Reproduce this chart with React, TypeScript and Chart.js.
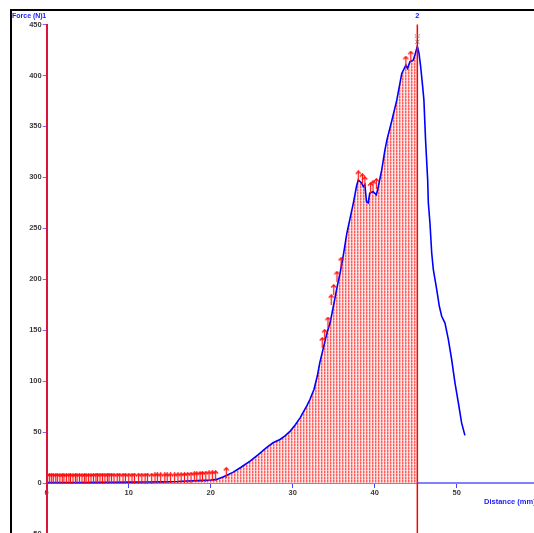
import React, { useEffect, useRef } from "react";
import { Chart, registerables } from "chart.js";

Chart.register(...registerables);

// ---- data ----
const curveX = [
  0, 2, 4, 6, 8, 10, 12, 14, 16, 17, 18, 19, 20, 20.7, 21.5, 22.7, 23.7, 24.8, 25.8, 26.8,
  27.6, 28.45, 29.1, 29.7, 30.3, 30.9, 31.7, 32.1, 32.6, 33.0, 33.3, 33.6, 33.9, 34.2, 34.55,
  34.95, 35.4, 35.8, 36.2, 36.6, 37.0, 37.4, 37.8, 38.0, 38.4, 38.6, 38.8, 39.0, 39.2, 39.4,
  39.8, 40.2, 40.4, 40.85, 41.25, 41.5, 42.1, 42.7, 43.3, 43.8, 44.0, 44.3, 44.7, 44.9, 45.2,
  45.4, 45.6, 45.85, 46.0, 46.2, 46.46, 46.54, 46.74, 46.95, 47.15, 47.56, 47.88, 48.17, 48.57,
  48.98, 49.39, 49.79, 50.2, 50.6, 51.0,
];
const curveY = [
  0.5, 0.5, 0.6, 0.7, 0.8, 0.9, 1.0, 1.2, 1.5, 2.0, 2.3, 2.6, 3.0, 3.6, 6, 10.5, 15.5, 21.6, 28, 34.7,
  39.5, 42.8, 46.5, 51, 57, 64, 75.5, 82, 92, 105, 118, 128, 138, 148, 157,
  173, 192, 207, 225, 245, 260, 275, 292, 297.5, 294.5, 291, 293, 276, 275, 284.5,
  286, 283, 289.5, 307, 327, 337, 356, 376, 402, 410, 407, 413.5, 415, 420, 428.5,
  422, 409, 389, 376, 337, 297.5, 275, 255, 226, 209.5, 190, 173.5, 163.7, 157,
  141, 121, 98.4, 78.8, 59, 46.8,
];

const arrowX = [
  0.1, 0.35, 0.6, 0.8, 1.1, 1.3, 1.6, 1.9, 2.1, 2.4, 2.7, 2.9, 3.2, 3.5, 3.7, 4.0, 4.3, 4.6, 4.8,
  5.1, 5.4, 5.7, 6.0, 6.2, 6.5, 6.8, 7.1, 7.4, 7.6, 7.9, 8.2, 8.6, 8.9, 9.3, 9.6, 10.0, 10.4,
  10.7, 11.2, 11.6, 12.0, 12.3, 12.8, 13.2, 13.5, 13.9, 14.4, 14.7, 15.1, 15.6, 16.0, 16.4, 16.8,
  17.2, 17.6, 18.0, 18.3, 18.7, 19.0, 19.4, 19.8, 20.2, 20.6, 21.9,
  33.6, 33.9, 34.3, 34.7, 35.0, 35.4, 35.9,
  38.0, 38.5, 38.8, 39.5, 39.8, 40.2,
  43.8, 44.4,
];
const arrowY = [
  4.6, 4.6, 4.6, 4.6, 4.6, 4.6, 4.6, 4.6, 4.6, 4.6, 4.6, 4.6, 4.6, 4.6, 4.6, 4.6, 4.6, 4.6, 4.6,
  4.6, 4.6, 4.6, 4.8, 4.8, 4.8, 4.8, 4.8, 4.8, 4.8, 4.8, 4.8, 4.8, 4.8, 4.8, 4.8, 4.8, 4.8,
  4.8, 4.8, 4.8, 4.8, 4.8, 4.8, 5.0, 5.0, 5.0, 5.0, 5.0, 5.0, 5.0, 5.2, 5.2, 5.4,
  5.6, 5.8, 6.0, 6.2, 6.4, 6.6, 6.8, 7.0, 7.2, 7.4, 10.5,
  138, 146, 158, 180, 190, 203, 216.6,
  301.5, 298.7, 296, 290, 292, 294,
  414, 419,
];

const xTicks = [0, 10, 20, 30, 40, 50, 60];
const yTicks = [-50, 0, 50, 100, 150, 200, 250, 300, 350, 400, 450];
const marker1X = 0;
const marker2X = 45.2;
const peakX = 45.2;
const peakY = 433;
const yTitle = "Force (N)";
const xTitle = "Distance (mm)";
const marker1Label = "1";
const marker2Label = "2";
const peakLabel = "12";

function makeArrow(): HTMLCanvasElement {
  const c = document.createElement("canvas");
  c.width = 7;
  c.height = 11;
  const g = c.getContext("2d")!;
  g.strokeStyle = "#ff1010";
  g.lineWidth = 1.2;
  g.beginPath();
  g.moveTo(3.5, 11);
  g.lineTo(3.5, 0.8);
  g.stroke();
  g.beginPath();
  g.moveTo(1, 3.5);
  g.lineTo(3.5, 0.8);
  g.lineTo(6, 3.5);
  g.stroke();
  return c;
}

function makePattern(ctx: CanvasRenderingContext2D): CanvasPattern | string {
  const c = document.createElement("canvas");
  c.width = 3;
  c.height = 3;
  const g = c.getContext("2d")!;
  g.fillStyle = "#ffe6e6";
  g.fillRect(0, 0, 3, 3);
  g.fillStyle = "#ff5c5c";
  g.fillRect(0, 0, 1, 2);
  g.fillStyle = "#ff9c9c";
  g.fillRect(0, 2, 1, 1);
  g.fillStyle = "#ffa8a8";
  g.fillRect(1, 0, 1, 2);
  g.fillStyle = "#ffd8d8";
  g.fillRect(1, 2, 1, 1);
  return ctx.createPattern(c, "repeat") || "#ffb0b0";
}

const tickFont = { family: "'Liberation Sans', Arial, sans-serif", size: 7.5, weight: "bold" as const };

export default function App() {
  const ref = useRef<HTMLCanvasElement | null>(null);

  useEffect(() => {
    const canvas = ref.current;
    if (!canvas) return;
    const ctx = canvas.getContext("2d")!;
    const pattern = makePattern(ctx);
    const arrow = makeArrow();

    const curve = curveX.map((x, i) => ({ x, y: curveY[i] }));
    const fillPts = curve.filter((p) => p.x <= marker2X);
    const arrows = arrowX.map((x, i) => ({ x, y: arrowY[i] }));

    const overlay = {
      id: "overlay",
      afterDatasetsDraw(chart: any) {
        const c = chart.ctx;
        const xs = chart.scales.x;
        const area = chart.chartArea;
        const m2 = xs.getPixelForValue(marker2X);
        c.save();
        c.strokeStyle = "#ff0000";
        c.lineWidth = 1.5;
        c.beginPath();
        c.moveTo(m2, area.top);
        c.lineTo(m2, area.bottom);
        c.stroke();
        c.restore();
      },
      afterDraw(chart: any) {
        const c = chart.ctx;
        const xs = chart.scales.x;
        const ys = chart.scales.y;
        const m1 = xs.getPixelForValue(marker1X);
        const m2 = xs.getPixelForValue(marker2X);
        c.save();
        c.fillStyle = "#1a1aff";
        c.font = "bold 7px 'Liberation Sans', Arial, sans-serif";
        c.textBaseline = "middle";
        c.textAlign = "right";
        c.fillText(yTitle, m1 - 4, 16);
        c.textAlign = "center";
        c.fillText(marker1Label, m1 - 2.5, 16);
        c.font = "bold 7.5px 'Liberation Sans', Arial, sans-serif";
        c.fillText(marker2Label, m2, 16);
        c.textAlign = "left";
        c.fillText(xTitle, 484, 502);
        c.fillStyle = "#9a9a9a";
        c.font = "6px 'Liberation Sans', Arial, sans-serif";
        c.textAlign = "center";
        c.fillText(peakLabel, xs.getPixelForValue(peakX), ys.getPixelForValue(peakY) - 5);
        c.restore();
      },
    };

    const chart = new Chart(ctx, {
      type: "line",
      data: {
        datasets: [
          {
            type: "scatter",
            data: arrows,
            pointStyle: arrow as any,
            pointRadius: 5,
            showLine: false,
          } as any,
          {
            type: "scatter",
            data: [{ x: peakX, y: peakY }],
            pointStyle: "crossRot",
            pointRadius: 3,
            borderColor: "#8a8a8a",
            borderWidth: 1,
            showLine: false,
          } as any,
          {
            data: curve,
            borderColor: "#0000ff",
            borderWidth: 1.6,
            pointRadius: 0,
            fill: false,
            tension: 0,
          },
          {
            data: fillPts,
            borderWidth: 0,
            borderColor: "rgba(0,0,0,0)",
            backgroundColor: pattern as any,
            pointRadius: 0,
            fill: "origin",
            tension: 0,
          },
        ],
      },
      options: {
        responsive: false,
        animation: false,
        events: [],
        layout: { padding: { left: 0, top: 24.5, right: 7.3, bottom: 5.3 } },
        plugins: { legend: { display: false }, tooltip: { enabled: false }, title: { display: false } },
        scales: {
          x: {
            type: "linear",
            min: 0,
            max: 60,
            position: { y: 0 } as any,
            afterBuildTicks: (s: any) => {
              s.ticks = xTicks.map((v) => ({ value: v }));
            },
            afterFit: (s: any) => {
              s.height = 0;
            },
            grid: { display: true, drawOnChartArea: false, drawTicks: true, tickLength: 4, color: "#4444ff", lineWidth: 1 },
            border: { display: true, color: "#8080ff", width: 2 },
            ticks: { font: tickFont, color: "#3a3a3a", padding: 1, maxRotation: 0, autoSkip: false },
          },
          y: {
            type: "linear",
            min: -50,
            max: 450,
            position: "left",
            afterBuildTicks: (s: any) => {
              s.ticks = yTicks.map((v) => ({ value: v }));
            },
            afterFit: (s: any) => {
              s.width = 46.7;
            },
            grid: { display: true, drawOnChartArea: false, drawTicks: true, tickLength: 4, color: "#7070ff", lineWidth: 1 },
            border: { display: true, color: "#dc143c", width: 2 },
            ticks: { font: tickFont, color: "#3a3a3a", padding: 1, autoSkip: false },
          },
        },
      },
      plugins: [overlay],
    });

    return () => chart.destroy();
  }, []);

  return (
    <div
      style={{
        position: "fixed",
        left: 0,
        top: 0,
        width: 534,
        height: 533,
        overflow: "hidden",
        background: "#ffffff",
      }}
    >
      <canvas ref={ref} width={546} height={540} style={{ display: "block", width: 546, height: 540 }} />
      <div style={{ position: "absolute", left: 10, top: 9, width: 2, height: 540, background: "#000" }} />
      <div style={{ position: "absolute", left: 10, top: 9, width: 540, height: 2, background: "#000" }} />
    </div>
  );
}
